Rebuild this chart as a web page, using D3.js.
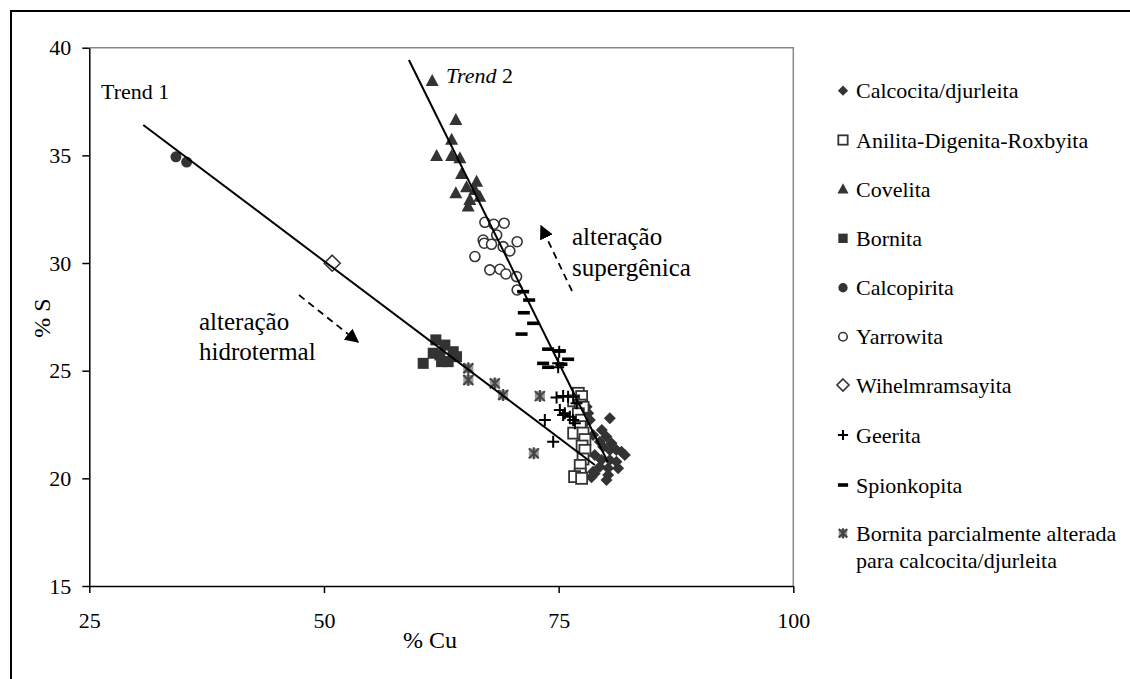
<!DOCTYPE html>
<html><head><meta charset="utf-8">
<script src="https://cdn.jsdelivr.net/npm/d3@7"></script>
</head><body style="margin:0;background:#fff"><svg id="c" width="1130" height="679" style="display:block"></svg>
<script>
// ---- data (%Cu, %S) ----
const calcocita = [[80.45,22.79],[78.67,22.01],[79.39,21.70],[79.74,21.47],[80.45,21.32],[81.16,21.32],[81.70,21.24],[82.05,21.08],[78.85,21.08],[79.56,20.85],[80.45,20.85],[81.16,20.77],[79.39,20.54],[80.27,20.47],[81.34,20.47],[78.85,20.23],[80.27,20.16],[78.67,20.31],[80.10,19.92],[78.50,20.05],[80.10,21.93],[80.63,21.63],[79.60,22.25],[78.15,23.02],[78.32,22.71],[77.98,23.33]];
const anilita = [[77.10,23.95],[77.45,23.80],[76.60,23.60],[77.30,23.40],[77.60,23.30],[77.10,23.00],[77.45,22.70],[77.30,22.40],[76.60,22.10],[77.60,22.10],[77.80,21.80],[77.50,21.50],[77.80,21.30],[77.60,20.90],[77.30,20.60],[77.30,20.20],[76.70,20.08],[77.45,20.00]];
const covelita = [[61.53,38.45],[64.05,36.64],[63.60,35.72],[62.00,34.97],[63.60,34.97],[64.48,34.87],[64.66,34.14],[66.26,33.78],[65.19,33.52],[64.05,33.24],[66.60,33.08],[65.54,32.93],[65.36,32.62],[66.07,33.39]];
const bornita = [[61.92,26.43],[62.88,26.19],[63.77,25.88],[61.64,25.81],[62.35,25.73],[63.23,25.42],[60.57,25.34],[62.53,25.42],[64.12,25.65]];
const calcopirita = [[34.23,34.93],[35.37,34.69]];
const yarrowita = [[67.14,31.89],[68.10,31.80],[69.20,31.85],[68.40,31.30],[66.96,31.07],[67.07,30.92],[67.85,30.87],[69.09,30.76],[70.58,30.99],[69.80,30.56],[66.08,30.30],[67.67,29.68],[68.74,29.71],[69.38,29.49],[70.52,29.37],[70.58,28.75]];
const wihelmramsayita = [[50.88,29.99]];
const geerita = [[74.78,23.76],[75.48,23.82],[76.01,23.79],[76.55,23.79],[75.13,23.17],[75.66,23.02],[76.19,22.86],[76.55,22.71],[75.48,22.94],[73.53,22.71],[76.73,22.56],[76.91,23.49],[74.95,25.34],[74.42,21.70],[75.06,25.88],[74.95,25.16]];
const spionkopita = [[71.22,28.67],[71.86,28.28],[71.29,27.69],[72.28,27.20],[71.05,26.70],[73.88,26.00],[75.13,25.92],[76.01,25.53],[73.35,25.34],[73.88,25.16],[75.30,25.30]];
const bornitaParcial = [[65.38,25.11],[65.38,24.57],[68.20,24.41],[69.09,23.87],[73.00,23.82],[72.36,21.16]];
const trend1 = [[30.75,36.41],[78.86,20.62]];
const trend2 = [[59.05,39.43],[80.24,20.76]];
const xTicks = [25,50,75,100];
const yTicks = [15,20,25,30,35,40];
const seriesNames = ["Calcocita/djurleita","Anilita-Digenita-Roxbyita","Covelita","Bornita","Calcopirita","Yarrowita","Wihelmramsayita","Geerita","Spionkopita","Bornita parcialmente alterada"];

const FONT = '"Liberation Serif"';
const svg = d3.select("#c").attr("font-family",FONT);
const x = d3.scaleLinear().domain([25,100]).range([89.3,793.3]);
const y = d3.scaleLinear().domain([15,40]).range([586,47.7]);
const dark = "#333";
function txt(px,py,size,s){return svg.append("text").attr("x",px).attr("y",py).attr("font-family",FONT).attr("font-size",size).attr("fill","#000").text(s);}

// outer frame
svg.append("path").attr("d","M11,690V11H1140").attr("fill","none").attr("stroke","#000").attr("stroke-width",2);
// plot area gray border (top/right)
svg.append("path").attr("d",`M${x(25)},${y(40)}H${x(100)}V${y(15)}`).attr("fill","none").attr("stroke","#888").attr("stroke-width",1.5);

// axes
const ax = svg.append("g").attr("transform",`translate(0,${y(15)})`)
  .call(d3.axisBottom(x).tickValues(xTicks).tickSize(7).tickSizeOuter(0).tickPadding(19));
const ay = svg.append("g").attr("transform",`translate(${x(25)},0)`)
  .call(d3.axisLeft(y).tickValues(yTicks).tickSize(7).tickSizeOuter(0).tickPadding(11));
[ax,ay].forEach(a=>{a.attr("font-family",FONT).attr("font-size",22);
  a.selectAll("path,line").attr("stroke","#000").attr("stroke-width",1.5);
  a.selectAll("text").attr("fill","#000").attr("font-family",FONT);});

// marker factories
const M = {
  diamond:(g,s)=>g.append("path").attr("d",`M0,${-6*s}L${6*s},0L0,${6*s}L${-6*s},0Z`).attr("fill",dark),
  squareOpen:(g,s)=>g.append("rect").attr("x",-5.5*s).attr("y",-5.5*s).attr("width",11*s).attr("height",11*s).attr("fill","#fff").attr("stroke",dark).attr("stroke-width",1.8),
  triangle:(g,s)=>g.append("path").attr("d",`M0,${-7*s}L${6.5*s},${5*s}L${-6.5*s},${5*s}Z`).attr("fill",dark),
  square:(g,s)=>g.append("rect").attr("x",-5.5*s).attr("y",-5.5*s).attr("width",11*s).attr("height",11*s).attr("fill",dark),
  circle:(g,s)=>g.append("circle").attr("r",5.5*s).attr("fill",dark),
  circleOpen:(g,s)=>g.append("circle").attr("r",5*s).attr("fill","#fff").attr("stroke",dark).attr("stroke-width",1.6),
  diamondOpen:(g,s)=>g.append("path").attr("d",`M0,${-8*s}L${8*s},0L0,${8*s}L${-8*s},0Z`).attr("fill","#fff").attr("stroke",dark).attr("stroke-width",1.6),
  plus:(g,s)=>g.append("path").attr("d",`M${-6*s},0H${6*s}M0,${-6*s}V${6*s}`).attr("stroke","#000").attr("stroke-width",2).attr("fill","none"),
  dash:(g,s)=>g.append("rect").attr("x",-6*s).attr("y",-1.8).attr("width",12*s).attr("height",3.6).attr("fill","#000"),
  star:(g,s)=>{g.append("rect").attr("x",-5*s).attr("y",-5*s).attr("width",10*s).attr("height",10*s).attr("fill","#999");
    g.append("path").attr("d",`M${-5*s},${-5*s}L${5*s},${5*s}M${-5*s},${5*s}L${5*s},${-5*s}M0,${-6*s}V${6*s}`).attr("stroke","#444").attr("stroke-width",2).attr("fill","none");}
};
const series = [
  {data:calcocita,m:"diamond"},{data:anilita,m:"squareOpen"},{data:covelita,m:"triangle"},{data:bornita,m:"square"},
  {data:calcopirita,m:"circle"},{data:yarrowita,m:"circleOpen"},{data:wihelmramsayita,m:"diamondOpen"},
  {data:geerita,m:"plus"},{data:spionkopita,m:"dash"},{data:bornitaParcial,m:"star"}
];
series.forEach((s,i)=>{
  const g = svg.append("g");
  s.data.forEach(d=>{const mg=g.append("g").attr("transform",`translate(${x(d[0])},${y(d[1])})`); M[s.m](mg,1);});
});

// trendlines
const line = d3.line().x(d=>x(d[0])).y(d=>y(d[1]));
[trend1,trend2].forEach(t=>svg.append("path").attr("d",line(t)).attr("stroke","#000").attr("stroke-width",2).attr("fill","none"));

// legend
const rowsY = [90.7,140,189.3,238.3,287.7,336.7,385,435,485,533.3];
series.forEach((s,i)=>{
  const mg = svg.append("g").attr("transform",`translate(843,${rowsY[i]})`);
  M[s.m](mg, s.m==="diamondOpen"?0.75:0.85);
  txt(856,rowsY[i],22,seriesNames[i]).attr("dy","0.35em");
});
txt(856,560,22,"para calcocita/djurleita").attr("dy","0.35em");

// axis titles
txt(430,648,24,"% Cu").attr("text-anchor","middle");
svg.append("text").attr("transform","translate(50,318) rotate(-90)").attr("text-anchor","middle")
  .attr("font-family",FONT).attr("font-size",24).attr("fill","#000").text("% S");

// annotations
txt(101,99,22,"Trend 1");
const t2 = txt(446,83,22,"");
t2.append("tspan").attr("font-style","italic").text("Trend");
t2.append("tspan").text(" 2");
txt(199,330,25,"alteração");
txt(199,360,25,"hidrotermal");
txt(572,245,25,"alteração");
txt(572,276,25,"supergênica");

// dashed arrows
const defs = svg.append("defs");
defs.append("marker").attr("id","ah").attr("viewBox","0 0 10 10").attr("refX",9).attr("refY",5)
  .attr("markerWidth",14).attr("markerHeight",14).attr("orient","auto").attr("markerUnits","userSpaceOnUse")
  .append("path").attr("d","M0,0L10,5L0,10Z").attr("fill","#000");
svg.append("line").attr("x1",299).attr("y1",295).attr("x2",358).attr("y2",342)
  .attr("stroke","#000").attr("stroke-width",1.8).attr("stroke-dasharray","7,5").attr("marker-end","url(#ah)");
svg.append("line").attr("x1",572).attr("y1",291).attr("x2",541).attr("y2",226)
  .attr("stroke","#000").attr("stroke-width",1.8).attr("stroke-dasharray","7,5").attr("marker-end","url(#ah)");
</script></body></html>
